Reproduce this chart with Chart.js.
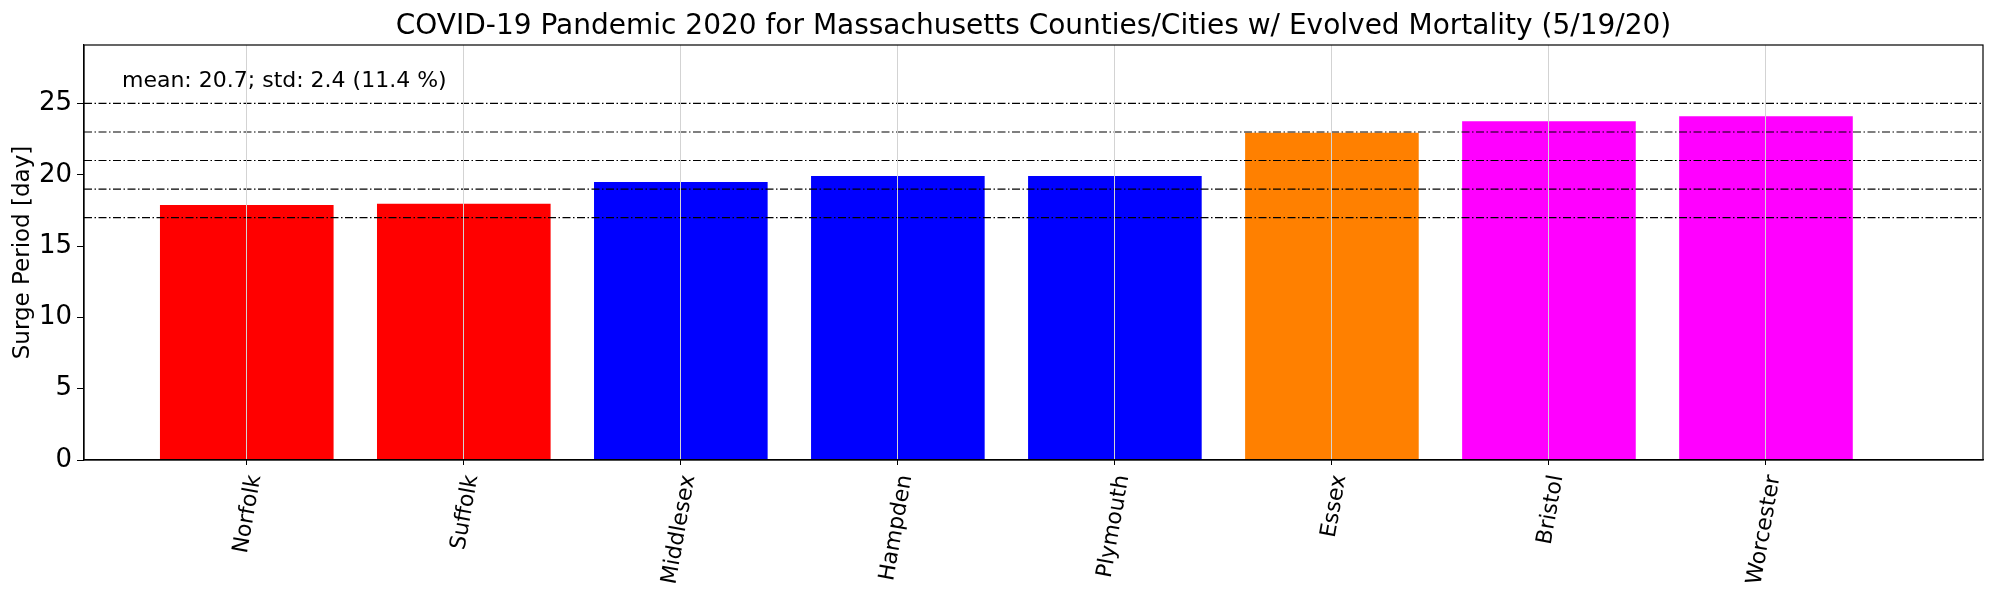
<!DOCTYPE html>
<html>
<head>
<meta charset="utf-8">
<script src="https://cdn.jsdelivr.net/npm/chart.js@4.4.1/dist/chart.umd.min.js"></script>
<style>
  html, body { margin: 0; padding: 0; background: #fff; }
  #wrap { width: 2000px; height: 600px; }
</style>
</head>
<body>
<div id="wrap"><canvas id="surgeChart" width="2000" height="600"></canvas></div>
<script>
// data
const counties = ['Norfolk', 'Suffolk', 'Middlesex', 'Hampden', 'Plymouth', 'Essex', 'Bristol', 'Worcester'];
const surgeDays = [17.88, 17.97, 19.49, 19.91, 19.91, 22.94, 23.76, 24.11];
const refLevels = [17, 19, 21, 23, 25];
const yTicks = [0, 5, 10, 15, 20, 25];
const statsText = 'mean: 20.7; std: 2.4 (11.4 %)';

// styles
const barColors = ['#ff0000', '#ff0000', '#0000ff', '#0000ff', '#0000ff', '#ff8000', '#ff00ff', '#ff00ff'];
const X_MIN = -0.75, X_MAX = 8;
const Y_MAX = 29.1;
const FONT = "'DejaVu Sans', sans-serif";

Chart.defaults.font.family = FONT;
Chart.defaults.color = '#000';

// frame around the plot + stats text (axes fraction 0.02, 0.9)
const framePlugin = {
    id: 'frame',
    afterDraw(chart) {
        const { ctx, chartArea: a } = chart;
        ctx.save();
        ctx.strokeStyle = '#000';
        ctx.lineWidth = 1.2;
        ctx.strokeRect(a.left, a.top, a.right - a.left, a.bottom - a.top);
        ctx.font = `22px ${FONT}`;
        ctx.fillStyle = '#000';
        ctx.textAlign = 'left';
        ctx.textBaseline = 'alphabetic';
        ctx.fillText(statsText, a.left + 0.02 * (a.right - a.left), a.bottom - 0.9 * (a.bottom - a.top));
        ctx.restore();
    }
};

const lineSets = refLevels.map(v => ({
    type: 'line',
    data: [{ x: X_MIN, y: v }, { x: X_MAX, y: v }],
    borderColor: '#000',
    borderWidth: 1.2,
    borderDash: [8, 2.5, 1.5, 2.5],
    pointRadius: 0,
    order: 0
}));

new Chart(document.getElementById('surgeChart'), {
    type: 'bar',
    data: {
        datasets: [
            ...lineSets,
            {
                type: 'bar',
                data: surgeDays.map((v, i) => ({ x: i, y: v })),
                backgroundColor: barColors,
                barPercentage: 0.8,
                categoryPercentage: 1,
                order: 1
            }
        ]
    },
    options: {
        responsive: false,
        animation: false,
        layout: { padding: { left: 0, right: 17, top: 0, bottom: 0 } },
        plugins: {
            legend: { display: false },
            tooltip: { enabled: false },
            title: {
                display: true,
                fullSize: false,
                text: 'COVID-19 Pandemic 2020 for Massachusetts Counties/Cities w/ Evolved Mortality (5/19/20)',
                font: { size: 28, weight: 'normal' },
                color: '#000',
                padding: { top: 10, bottom: 1.4 }
            }
        },
        scales: {
            x: {
                type: 'linear',
                min: X_MIN,
                max: X_MAX,
                offset: false,
                afterBuildTicks: s => { s.ticks = counties.map((_, i) => ({ value: i })); },
                afterFit: s => { s.height = 140; },
                ticks: {
                    autoSkip: false,
                    maxRotation: 80,
                    minRotation: 80,
                    labelOffset: 8,
                    padding: 8,
                    font: { size: 22 },
                    callback: v => counties[v] ?? ''
                },
                grid: {
                    offset: false,
                    z: 1,
                    color: '#d3d3d3',
                    lineWidth: 1,
                    tickColor: '#000',
                    tickLength: 5,
                    drawTicks: true
                },
                border: { color: '#000', width: 1.2, z: 2 }
            },
            y: {
                min: 0,
                max: Y_MAX,
                afterBuildTicks: s => { s.ticks = yTicks.map(v => ({ value: v })); },
                afterFit: s => { s.width = 84; },
                ticks: {
                    padding: 5,
                    font: { size: 26 }
                },
                grid: {
                    drawOnChartArea: false,
                    tickColor: '#000',
                    tickLength: 7
                },
                border: { color: '#000', width: 1.2 },
                title: {
                    display: true,
                    text: 'Surge Period [day]',
                    font: { size: 23 },
                    padding: { top: 9, bottom: 0 }
                }
            }
        }
    },
    plugins: [framePlugin]
});
</script>
</body>
</html>
